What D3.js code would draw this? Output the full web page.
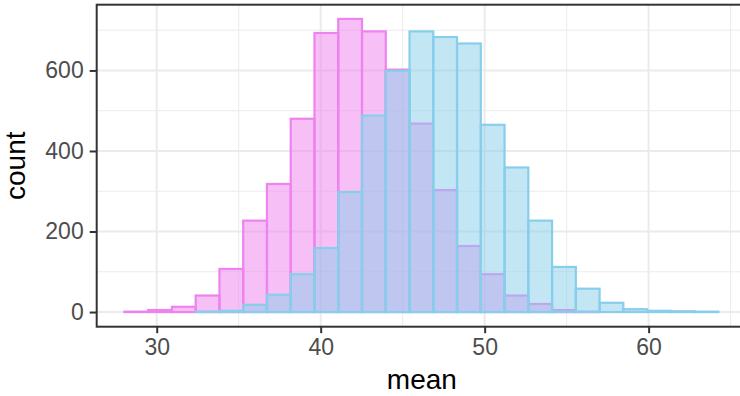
<!DOCTYPE html>
<html>
<head>
<meta charset="utf-8">
<script src="https://cdn.jsdelivr.net/npm/d3@7"></script>
<style>
  html, body { margin: 0; padding: 0; background: #fff; }
  svg { display: block; }
</style>
</head>
<body>
<svg id="chart" width="740" height="396"></svg>
<script>
// ---- data ----
const binStart = 28.03;   // left edge of first bin (mean units)
const binWidth = 1.449;   // bin width (mean units)
const pinkCounts = [1, 5, 13, 41, 107, 227, 318, 480, 693, 728, 697, 602, 468, 303, 164, 94, 41, 20, 5, 1, 0, 0, 0, 0, 0];
const blueCounts = [0, 0, 0, 1, 3, 18, 43, 94, 159, 298, 488, 599, 697, 683, 667, 465, 359, 227, 112, 58, 23, 7, 3, 2, 1];
const xTicks = [30, 40, 50, 60];
const xMinor = [35, 45, 55, 65];
const yTicks = [0, 200, 400, 600];
const yMinor = [100, 300, 500, 700];
const xDomain = [26.34, 66.0];
const yDomain = [-36.4, 763.3];

// ---- layout ----
const svg = d3.select("#chart");
const P = { left: 96.7, right: 747, top: 4.7, bottom: 326.7 };

const x = d3.scaleLinear().domain(xDomain).range([P.left, P.right]);
const y = d3.scaleLinear().domain(yDomain).range([P.bottom, P.top]);

svg.append("defs").append("clipPath").attr("id", "panel")
  .append("rect").attr("x", P.left).attr("y", P.top)
  .attr("width", P.right - P.left).attr("height", P.bottom - P.top);

const panel = svg.append("g").attr("clip-path", "url(#panel)");

// grid
panel.selectAll(".xminor").data(xMinor).join("line")
  .attr("x1", d => x(d)).attr("x2", d => x(d)).attr("y1", P.top).attr("y2", P.bottom)
  .attr("stroke", "#EBEBEB").attr("stroke-width", 1);
panel.selectAll(".yminor").data(yMinor).join("line")
  .attr("y1", d => y(d)).attr("y2", d => y(d)).attr("x1", P.left).attr("x2", P.right)
  .attr("stroke", "#EBEBEB").attr("stroke-width", 1);
panel.selectAll(".xmajor").data(xTicks).join("line")
  .attr("x1", d => x(d)).attr("x2", d => x(d)).attr("y1", P.top).attr("y2", P.bottom)
  .attr("stroke", "#EBEBEB").attr("stroke-width", 2);
panel.selectAll(".ymajor").data(yTicks).join("line")
  .attr("y1", d => y(d)).attr("y2", d => y(d)).attr("x1", P.left).attr("x2", P.right)
  .attr("stroke", "#EBEBEB").attr("stroke-width", 2);

function drawBars(counts, fill, stroke) {
  const data = counts.map((c, i) => ({ x0: binStart + i * binWidth, x1: binStart + (i + 1) * binWidth, c }));
  panel.append("g").selectAll("rect").data(data).join("rect")
    .attr("x", d => x(d.x0))
    .attr("width", d => x(d.x1) - x(d.x0))
    .attr("y", d => y(d.c))
    .attr("height", d => y(0) - y(d.c))
    .attr("fill", fill).attr("fill-opacity", 0.5)
    .attr("stroke", stroke).attr("stroke-width", 2.2);
}
drawBars(pinkCounts, "#EE82EE", "#EE82EE");
drawBars(blueCounts, "#87CEEB", "#87CEEB");

// panel border
svg.append("rect").attr("x", P.left).attr("y", P.top)
  .attr("width", P.right - P.left).attr("height", P.bottom - P.top)
  .attr("fill", "none").attr("stroke", "#333333").attr("stroke-width", 2);

// axes
const xAxis = svg.append("g").attr("transform", `translate(0,${P.bottom})`)
  .call(d3.axisBottom(x).tickValues(xTicks).tickSize(6.5).tickPadding(5).tickFormat(d3.format("d")));
const yAxis = svg.append("g").attr("transform", `translate(${P.left},0)`)
  .call(d3.axisLeft(y).tickValues(yTicks).tickSize(7).tickPadding(6).tickFormat(d3.format("d")));
[xAxis, yAxis].forEach(a => {
  a.select(".domain").remove();
  a.selectAll(".tick line").attr("stroke", "#333333").attr("stroke-width", 2);
  a.selectAll(".tick text").attr("fill", "#4D4D4D")
    .style("font-family", "'Liberation Sans', Arial, sans-serif").style("font-size", "23px");
});

// titles
svg.append("text").attr("x", (P.left + P.right) / 2).attr("y", 389)
  .attr("text-anchor", "middle").attr("fill", "#000")
  .style("font-family", "'Liberation Sans', Arial, sans-serif").style("font-size", "28px")
  .text("mean");
svg.append("text").attr("transform", `translate(25,${(P.top + P.bottom) / 2}) rotate(-90)`)
  .attr("text-anchor", "middle").attr("fill", "#000")
  .style("font-family", "'Liberation Sans', Arial, sans-serif").style("font-size", "28px")
  .text("count");
</script>
</body>
</html>
